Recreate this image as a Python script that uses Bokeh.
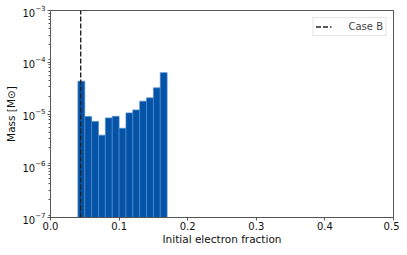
from bokeh.plotting import figure
from bokeh.models import Range1d, FixedTicker, LogTicker
from bokeh.embed import file_html
from bokeh.resources import INLINE
from bokeh.core.properties import value

# Data
bin_left = [0.04, 0.05, 0.06, 0.07, 0.08, 0.09, 0.10, 0.11, 0.12, 0.13, 0.14, 0.15, 0.16]
bin_right = [0.05, 0.06, 0.07, 0.08, 0.09, 0.10, 0.11, 0.12, 0.13, 0.14, 0.15, 0.16, 0.17]
mass = [4.3e-5, 8.9e-6, 7.2e-6, 3.9e-6, 8.4e-6, 9.0e-6, 5.3e-6, 1.05e-5, 1.2e-5,
        1.77e-5, 2.05e-5, 3.2e-5, 6.3e-5]
case_b_x = [0.044]
y_limits = [1e-7, 1e-3]
x_limits = [0.0, 0.5]
x_ticks = [0.0, 0.1, 0.2, 0.3, 0.4, 0.5]

FONT = "DejaVu Sans"

p = figure(width=399, height=247, y_axis_type="log",
           x_range=Range1d(*x_limits), y_range=Range1d(*y_limits),
           output_backend="svg", toolbar_location=None,
           min_border_left=50, min_border_right=6, min_border_top=10, min_border_bottom=26)

p.quad(left=bin_left, right=bin_right, top=mass, bottom=y_limits[0],
       fill_color="#0453a7", line_color="#4d8bd0", line_width=0.7)

p.segment(x0=case_b_x, y0=[y_limits[0]], x1=case_b_x, y1=[y_limits[1]],
          line_color="#222222", line_width=1.4, line_dash=value("5 2"), legend_label="Case B")

p.grid.visible = False
p.outline_line_color = "#555555"
p.outline_line_width = 1
p.background_fill_color = "white"
p.border_fill_color = "white"

p.xaxis.ticker = FixedTicker(ticks=x_ticks)
p.xaxis.major_label_overrides = {t: f"{t:.1f}" for t in x_ticks}
p.yaxis.ticker = LogTicker(num_minor_ticks=9)

for ax in (p.xaxis[0], p.yaxis[0]):
    ax.axis_line_color = "#555555"
    ax.major_tick_line_color = "#555555"
    ax.minor_tick_line_color = "#555555"
    ax.major_tick_out = 3
    ax.major_tick_in = 0
    ax.minor_tick_out = 2
    ax.minor_tick_in = 0
    ax.major_label_text_font = FONT
    ax.major_label_text_font_size = "10px"
    ax.major_label_text_color = "#111111"
    ax.axis_label_text_font = FONT
    ax.axis_label_text_font_size = "10.5px"
    ax.axis_label_text_font_style = "normal"
    ax.axis_label_text_color = "#111111"

p.xaxis.major_label_standoff = 1
p.xaxis.axis_label_standoff = 0
p.yaxis.major_label_standoff = 2
p.yaxis.axis_label_standoff = 2

p.xaxis.minor_tick_line_color = None
p.xaxis.axis_label = "Initial electron fraction"
p.yaxis.axis_label = "Mass [M\u2299]"

p.legend.location = "top_right"
p.legend.label_text_font = FONT
p.legend.label_text_font_size = "10px"
p.legend.border_line_color = "#cccccc"
p.legend.border_line_width = 1
p.legend.background_fill_alpha = 0.9
p.legend.padding = 2
p.legend.margin = 7
p.legend.spacing = 0
p.legend.glyph_width = 16
p.legend.glyph_height = 13
p.legend.label_standoff = 17
p.legend.label_height = 13

open("out.html", "w").write(file_html(p, INLINE))
